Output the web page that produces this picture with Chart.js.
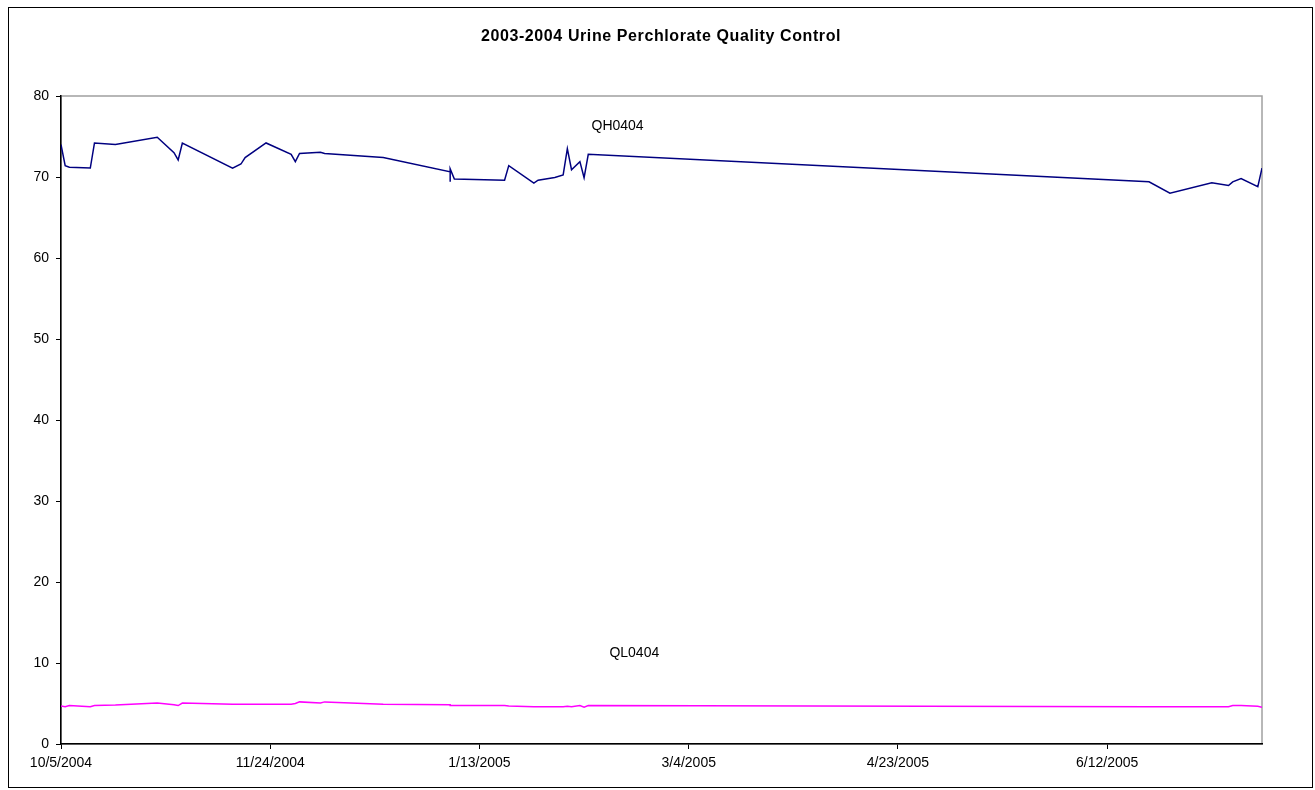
<!DOCTYPE html>
<html lang="en">

<head>
    <meta charset="UTF-8">
    <title>2003-2004 Urine Perchlorate Quality Control</title>
    <script src="https://cdn.jsdelivr.net/npm/chart.js"></script>
    <style>
        body { margin: 0; background: #fff; }
    </style>
</head>

<body>
    <canvas id="myChart" width="1315" height="790"></canvas>
    <script>
        // run dates (M/D/YYYY), shared by both QC pools
        const runDates = [
            '10/5/2004', '10/6/2004', '10/7/2004', '10/12/2004', '10/13/2004', '10/18/2004',
            '10/28/2004', '11/1/2004', '11/2/2004', '11/3/2004', '11/15/2004', '11/17/2004',
            '11/18/2004', '11/23/2004', '11/29/2004', '11/30/2004', '12/1/2004', '12/6/2004',
            '12/7/2004', '12/21/2004', '1/6/2005', '1/6/2005', '1/6/2005', '1/7/2005',
            '1/19/2005', '1/20/2005', '1/26/2005', '1/27/2005', '1/31/2005', '2/2/2005',
            '2/3/2005', '2/4/2005', '2/6/2005', '2/7/2005', '2/8/2005', '6/22/2005',
            '6/27/2005', '7/7/2005', '7/11/2005', '7/12/2005', '7/14/2005', '7/18/2005',
            '7/19/2005'
        ];
        const qhValues = [
            74.0, 71.4, 71.2, 71.1, 74.2, 74.0,
            74.9, 73.0, 72.1, 74.2, 71.1, 71.6,
            72.4, 74.2, 72.8, 71.9, 72.9, 73.05,
            72.9, 72.4, 70.65, 69.4, 71.0, 69.75,
            69.6, 71.4, 69.25, 69.6, 69.95, 70.25,
            73.5, 70.9, 71.9, 69.9, 72.8, 69.4,
            68.0, 69.3, 68.95, 69.4, 69.8, 68.8,
            71.1
        ];
        const qlValues = [
            4.7, 4.6, 4.75, 4.6, 4.75, 4.8,
            5.05, 4.85, 4.75, 5.05, 4.9, 4.9,
            4.9, 4.9, 4.9, 5.0, 5.2, 5.05,
            5.2, 4.9, 4.85, 4.8, 4.75, 4.75,
            4.75, 4.7, 4.6, 4.6, 4.6, 4.6,
            4.65, 4.6, 4.75, 4.55, 4.75, 4.6,
            4.6, 4.6, 4.6, 4.75, 4.75, 4.65,
            4.55
        ];
        const xTickLabels = ['10/5/2004', '11/24/2004', '1/13/2005', '3/4/2005', '4/23/2005', '6/12/2005'];
        const yTicks = [0, 10, 20, 30, 40, 50, 60, 70, 80];
        const chartTitle = '2003-2004 Urine Perchlorate Quality Control';

        // series name labels, anchored in data coordinates
        const seriesLabels = [
            { text: 'QH0404', date: '2/15/2005', value: 76.3 },
            { text: 'QL0404', date: '2/19/2005', value: 11.2 }
        ];

        function dayNum(s) {
            let [m, d, y] = s.split('/').map(Number);
            return Date.UTC(y, m - 1, d) / 86400000;
        }
        function dayLabel(v) {
            let a = new Date(v * 86400000);
            return (a.getUTCMonth() + 1) + '/' + a.getUTCDate() + '/' + a.getUTCFullYear();
        }

        const font = "'Liberation Sans', Arial, sans-serif";

        const framePlugin = {
            id: 'frame',
            beforeDraw(chart) {
                let ctx = chart.ctx;
                ctx.save();
                ctx.fillStyle = '#fff';
                ctx.fillRect(0, 0, chart.width, chart.height);
                ctx.strokeStyle = '#000';
                ctx.lineWidth = 1;
                ctx.strokeRect(8.5, 7.5, 1304, 780);
                let a = chart.chartArea;
                ctx.strokeStyle = '#a0a0a0';
                ctx.lineWidth = 1.5;
                ctx.strokeRect(a.left, a.top, a.right - a.left, a.bottom - a.top);
                // title, centred on the outer frame
                ctx.fillStyle = '#000';
                ctx.font = 'bold 16px ' + font;
                ctx.letterSpacing = '0.6px';
                ctx.textAlign = 'center';
                ctx.textBaseline = 'middle';
                ctx.fillText(chartTitle, 661, 37);
                ctx.restore();
            },
            afterDatasetsDraw(chart) {
                let ctx = chart.ctx;
                let xs = chart.scales.x, ys = chart.scales.y;
                ctx.save();
                ctx.font = '14px ' + font;
                ctx.fillStyle = '#000';
                ctx.textAlign = 'center';
                ctx.textBaseline = 'middle';
                seriesLabels.forEach(l => {
                    ctx.fillText(l.text, xs.getPixelForValue(dayNum(l.date)), ys.getPixelForValue(l.value));
                });
                ctx.restore();
            }
        };

        let ctx = document.getElementById('myChart').getContext('2d');
        let myChart = new Chart(ctx, {
            type: 'line',
            data: {
                datasets: [{
                    label: 'QH0404',
                    data: runDates.map((d, i) => ({ x: dayNum(d), y: qhValues[i] })),
                    borderColor: '#000080',
                    borderWidth: 1.5,
                    pointRadius: 0,
                    tension: 0
                }, {
                    label: 'QL0404',
                    data: runDates.map((d, i) => ({ x: dayNum(d), y: qlValues[i] })),
                    borderColor: '#ff00ff',
                    borderWidth: 1.5,
                    pointRadius: 0,
                    tension: 0
                }]
            },
            options: {
                responsive: false,
                animation: false,
                layout: { padding: { left: 0, right: 53, top: 96, bottom: 0 } },
                plugins: {
                    legend: { display: false },
                    tooltip: { enabled: false },
                    title: { display: false }
                },
                scales: {
                    x: {
                        type: 'linear',
                        min: dayNum(runDates[0]),
                        max: dayNum(runDates[runDates.length - 1]),
                        afterBuildTicks: (scale) => {
                            scale.ticks = xTickLabels.map(s => ({ value: dayNum(s) }));
                        },
                        afterFit: (scale) => { scale.height = 46; },
                        ticks: {
                            autoSkip: false,
                            maxRotation: 0,
                            padding: 6,
                            color: '#000',
                            font: { family: font, size: 14 },
                            callback: (v) => dayLabel(v)
                        },
                        grid: { drawOnChartArea: false, color: '#000', tickLength: 5 },
                        border: { color: '#000', width: 1.5 }
                    },
                    y: {
                        min: 0,
                        max: 80,
                        afterBuildTicks: (scale) => {
                            scale.ticks = yTicks.map(v => ({ value: v }));
                        },
                        afterFit: (scale) => { scale.width = 61; },
                        ticks: {
                            padding: 7,
                            color: '#000',
                            font: { family: font, size: 14 }
                        },
                        grid: { drawOnChartArea: false, color: '#000', tickLength: 5 },
                        border: { color: '#000', width: 1.5 }
                    }
                }
            },
            plugins: [framePlugin]
        });
    </script>
</body>

</html>
